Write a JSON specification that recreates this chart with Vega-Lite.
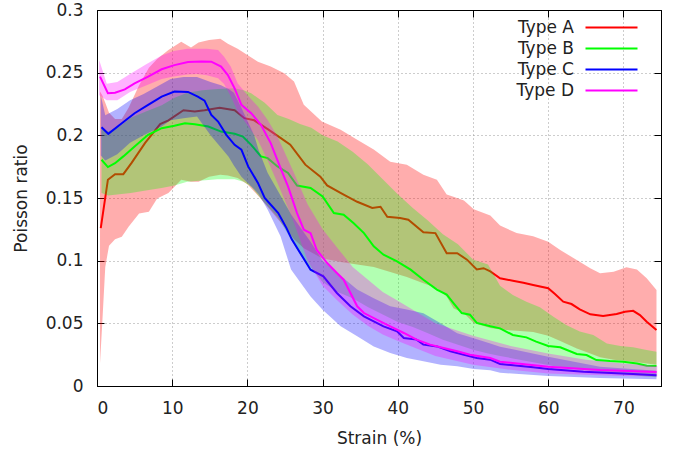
{
  "$schema": "https://vega.github.io/schema/vega-lite/v6.json",
  "width": 564,
  "height": 376,
  "autosize": "none",
  "padding": {"left": 97, "top": 10, "right": 17, "bottom": 69},
  "config": {
    "font": "DejaVu Sans",
    "view": {"stroke": "#000", "strokeWidth": 1},
    "axis": {"labelFontSize": 17, "titleFontSize": 17, "titleFontWeight": "normal", "labelColor": "#222", "titleColor": "#222", "domainColor": "#000", "tickColor": "#000", "tickSize": -7, "gridColor": "#9a9a9a", "gridDash": [1, 3], "gridWidth": 1}
  },
  "datasets": {
    "lines": [
      {"t":"Type A","x":0.5,"y":0.126},{"t":"Type A","x":1.45,"y":0.1646},{"t":"Type A","x":2.4,"y":0.169},{"t":"Type A","x":3.5,"y":0.169},{"t":"Type A","x":4.6,"y":0.178},{"t":"Type A","x":6.4,"y":0.194},{"t":"Type A","x":8.4,"y":0.209},{"t":"Type A","x":9.5,"y":0.212},{"t":"Type A","x":11.5,"y":0.22},{"t":"Type A","x":13,"y":0.219},{"t":"Type A","x":14.3,"y":0.22},{"t":"Type A","x":16.3,"y":0.222},{"t":"Type A","x":18.3,"y":0.22},{"t":"Type A","x":19.6,"y":0.2137},{"t":"Type A","x":20.9,"y":0.212},{"t":"Type A","x":22.7,"y":0.205},{"t":"Type A","x":24.4,"y":0.198},{"t":"Type A","x":25.7,"y":0.1926},{"t":"Type A","x":27.7,"y":0.1766},{"t":"Type A","x":29.7,"y":0.167},{"t":"Type A","x":30.6,"y":0.16},{"t":"Type A","x":32.8,"y":0.1527},{"t":"Type A","x":34.6,"y":0.147},{"t":"Type A","x":36.6,"y":0.142},{"t":"Type A","x":37.7,"y":0.143},{"t":"Type A","x":38.6,"y":0.135},{"t":"Type A","x":40.3,"y":0.134},{"t":"Type A","x":41.4,"y":0.1327},{"t":"Type A","x":43.4,"y":0.1226},{"t":"Type A","x":45,"y":0.122},{"t":"Type A","x":46.5,"y":0.106},{"t":"Type A","x":47.9,"y":0.106},{"t":"Type A","x":49.2,"y":0.1008},{"t":"Type A","x":50.5,"y":0.093},{"t":"Type A","x":51.4,"y":0.094},{"t":"Type A","x":52.3,"y":0.0915},{"t":"Type A","x":53.6,"y":0.0859},{"t":"Type A","x":55.3,"y":0.084},{"t":"Type A","x":56.7,"y":0.0824},{"t":"Type A","x":58,"y":0.0806},{"t":"Type A","x":60,"y":0.078},{"t":"Type A","x":60.9,"y":0.0734},{"t":"Type A","x":62,"y":0.0673},{"t":"Type A","x":63.1,"y":0.0654},{"t":"Type A","x":64.2,"y":0.0612},{"t":"Type A","x":65.6,"y":0.0572},{"t":"Type A","x":67.3,"y":0.0558},{"t":"Type A","x":69.1,"y":0.0574},{"t":"Type A","x":70.2,"y":0.0593},{"t":"Type A","x":71.3,"y":0.06},{"t":"Type A","x":72.2,"y":0.0566},{"t":"Type A","x":73.1,"y":0.0513},{"t":"Type A","x":74.4,"y":0.0447},
      {"t":"Type B","x":0.6,"y":0.1805},{"t":"Type B","x":1.45,"y":0.1747},{"t":"Type B","x":2.4,"y":0.1778},{"t":"Type B","x":3.5,"y":0.1832},{"t":"Type B","x":5,"y":0.191},{"t":"Type B","x":6.8,"y":0.2004},{"t":"Type B","x":8.6,"y":0.2057},{"t":"Type B","x":10.3,"y":0.2076},{"t":"Type B","x":11.7,"y":0.2097},{"t":"Type B","x":13,"y":0.2089},{"t":"Type B","x":14.8,"y":0.207},{"t":"Type B","x":16.5,"y":0.203},{"t":"Type B","x":18.3,"y":0.2012},{"t":"Type B","x":19.4,"y":0.199},{"t":"Type B","x":20.5,"y":0.1924},{"t":"Type B","x":21.8,"y":0.1832},{"t":"Type B","x":22.7,"y":0.1818},{"t":"Type B","x":24,"y":0.1752},{"t":"Type B","x":25.4,"y":0.17},{"t":"Type B","x":26.6,"y":0.16},{"t":"Type B","x":28.4,"y":0.158},{"t":"Type B","x":30,"y":0.1513},{"t":"Type B","x":31.5,"y":0.138},{"t":"Type B","x":32.8,"y":0.1367},{"t":"Type B","x":34.1,"y":0.13},{"t":"Type B","x":35.5,"y":0.122},{"t":"Type B","x":36.8,"y":0.1114},{"t":"Type B","x":38.1,"y":0.1048},{"t":"Type B","x":39.9,"y":0.0995},{"t":"Type B","x":41.7,"y":0.0928},{"t":"Type B","x":43.4,"y":0.0848},{"t":"Type B","x":45.2,"y":0.0769},{"t":"Type B","x":46.5,"y":0.0729},{"t":"Type B","x":47.4,"y":0.0662},{"t":"Type B","x":48.5,"y":0.0582},{"t":"Type B","x":49.6,"y":0.0569},{"t":"Type B","x":50.5,"y":0.0503},{"t":"Type B","x":52.3,"y":0.0476},{"t":"Type B","x":53.6,"y":0.046},{"t":"Type B","x":55.3,"y":0.0407},{"t":"Type B","x":57.1,"y":0.0388},{"t":"Type B","x":58.4,"y":0.0354},{"t":"Type B","x":60,"y":0.0319},{"t":"Type B","x":61.6,"y":0.0309},{"t":"Type B","x":63.8,"y":0.0255},{"t":"Type B","x":65.1,"y":0.0247},{"t":"Type B","x":66.4,"y":0.0207},{"t":"Type B","x":68.2,"y":0.0199},{"t":"Type B","x":70,"y":0.0194},{"t":"Type B","x":71.8,"y":0.018},{"t":"Type B","x":73.1,"y":0.0162},{"t":"Type B","x":74.4,"y":0.016},
      {"t":"Type C","x":0.6,"y":0.2065},{"t":"Type C","x":1.5,"y":0.2012},{"t":"Type C","x":3.3,"y":0.2097},{"t":"Type C","x":5,"y":0.2176},{"t":"Type C","x":6.8,"y":0.2243},{"t":"Type C","x":8.6,"y":0.2309},{"t":"Type C","x":10.3,"y":0.2349},{"t":"Type C","x":12.1,"y":0.2346},{"t":"Type C","x":13.4,"y":0.2309},{"t":"Type C","x":14.3,"y":0.2277},{"t":"Type C","x":15.2,"y":0.2163},{"t":"Type C","x":16.1,"y":0.211},{"t":"Type C","x":17.2,"y":0.2004},{"t":"Type C","x":18.3,"y":0.1924},{"t":"Type C","x":19.2,"y":0.1885},{"t":"Type C","x":20.1,"y":0.1752},{"t":"Type C","x":21.4,"y":0.162},{"t":"Type C","x":22.3,"y":0.15},{"t":"Type C","x":24.1,"y":0.138},{"t":"Type C","x":25.2,"y":0.126},{"t":"Type C","x":25.9,"y":0.117},{"t":"Type C","x":28.4,"y":0.0928},{"t":"Type C","x":30.1,"y":0.0875},{"t":"Type C","x":31.9,"y":0.0742},{"t":"Type C","x":33.7,"y":0.0636},{"t":"Type C","x":35.5,"y":0.0556},{"t":"Type C","x":38.1,"y":0.0476},{"t":"Type C","x":39.9,"y":0.0436},{"t":"Type C","x":40.8,"y":0.0383},{"t":"Type C","x":42.5,"y":0.037},{"t":"Type C","x":43.4,"y":0.033},{"t":"Type C","x":45.2,"y":0.0316},{"t":"Type C","x":47,"y":0.0277},{"t":"Type C","x":48.8,"y":0.025},{"t":"Type C","x":50.5,"y":0.0223},{"t":"Type C","x":52.3,"y":0.021},{"t":"Type C","x":53.6,"y":0.0176},{"t":"Type C","x":58,"y":0.0149},{"t":"Type C","x":60,"y":0.0136},{"t":"Type C","x":64.7,"y":0.0114},{"t":"Type C","x":69.1,"y":0.0101},{"t":"Type C","x":71.3,"y":0.0096},{"t":"Type C","x":74.4,"y":0.0085},
      {"t":"Type D","x":0.4,"y":0.2468},{"t":"Type D","x":1.45,"y":0.2336},{"t":"Type D","x":2.4,"y":0.234},{"t":"Type D","x":3.7,"y":0.2367},{"t":"Type D","x":5,"y":0.2415},{"t":"Type D","x":6.8,"y":0.2468},{"t":"Type D","x":8.6,"y":0.2527},{"t":"Type D","x":10.3,"y":0.256},{"t":"Type D","x":12.1,"y":0.2585},{"t":"Type D","x":13.9,"y":0.259},{"t":"Type D","x":15.2,"y":0.2588},{"t":"Type D","x":16.5,"y":0.2548},{"t":"Type D","x":17.4,"y":0.2481},{"t":"Type D","x":18.3,"y":0.2375},{"t":"Type D","x":19.2,"y":0.2243},{"t":"Type D","x":20.5,"y":0.2177},{"t":"Type D","x":21.8,"y":0.2084},{"t":"Type D","x":23.1,"y":0.1938},{"t":"Type D","x":24.5,"y":0.1725},{"t":"Type D","x":25.4,"y":0.1593},{"t":"Type D","x":26.6,"y":0.138},{"t":"Type D","x":27.5,"y":0.1247},{"t":"Type D","x":28.4,"y":0.122},{"t":"Type D","x":29.2,"y":0.1088},{"t":"Type D","x":30.6,"y":0.0981},{"t":"Type D","x":31.9,"y":0.0902},{"t":"Type D","x":32.8,"y":0.0848},{"t":"Type D","x":34.6,"y":0.0636},{"t":"Type D","x":35.5,"y":0.0582},{"t":"Type D","x":37.2,"y":0.0529},{"t":"Type D","x":39,"y":0.0476},{"t":"Type D","x":40.8,"y":0.0423},{"t":"Type D","x":42.5,"y":0.037},{"t":"Type D","x":44.3,"y":0.033},{"t":"Type D","x":46.1,"y":0.0303},{"t":"Type D","x":47.9,"y":0.0277},{"t":"Type D","x":49.6,"y":0.025},{"t":"Type D","x":52.3,"y":0.0223},{"t":"Type D","x":53.6,"y":0.0194},{"t":"Type D","x":60,"y":0.0154},{"t":"Type D","x":66.9,"y":0.0128},{"t":"Type D","x":74.4,"y":0.0112}
    ],
    "bands": [
      {"t":"Type A","x":0.4,"lo":0.018,"hi":0.235},{"t":"Type A","x":0.7,"lo":0.05,"hi":0.232},{"t":"Type A","x":1.1,"lo":0.095,"hi":0.226},{"t":"Type A","x":1.6,"lo":0.112,"hi":0.218},{"t":"Type A","x":2.4,"lo":0.117,"hi":0.213},{"t":"Type A","x":3.3,"lo":0.119,"hi":0.213},{"t":"Type A","x":4.2,"lo":0.127,"hi":0.222},{"t":"Type A","x":5.6,"lo":0.1376,"hi":0.24},{"t":"Type A","x":6.9,"lo":0.139,"hi":0.254},{"t":"Type A","x":8,"lo":0.1496,"hi":0.261},{"t":"Type A","x":9.5,"lo":0.154,"hi":0.268},{"t":"Type A","x":11.2,"lo":0.1646,"hi":0.2747},{"t":"Type A","x":12.5,"lo":0.163,"hi":0.27},{"t":"Type A","x":13.5,"lo":0.163,"hi":0.274},{"t":"Type A","x":14.9,"lo":0.167,"hi":0.276},{"t":"Type A","x":16.4,"lo":0.1686,"hi":0.277},{"t":"Type A","x":17.4,"lo":0.168,"hi":0.273},{"t":"Type A","x":18.7,"lo":0.166,"hi":0.269},{"t":"Type A","x":20,"lo":0.161,"hi":0.264},{"t":"Type A","x":21.4,"lo":0.152,"hi":0.2588},{"t":"Type A","x":23.1,"lo":0.14,"hi":0.255},{"t":"Type A","x":24.9,"lo":0.127,"hi":0.2495},{"t":"Type A","x":26.2,"lo":0.117,"hi":0.243},{"t":"Type A","x":27.5,"lo":0.11,"hi":0.2245},{"t":"Type A","x":29.9,"lo":0.102,"hi":0.211},{"t":"Type A","x":32.4,"lo":0.099,"hi":0.2045},{"t":"Type A","x":34.6,"lo":0.097,"hi":0.1965},{"t":"Type A","x":36.8,"lo":0.095,"hi":0.1886},{"t":"Type A","x":39,"lo":0.091,"hi":0.179},{"t":"Type A","x":41.2,"lo":0.087,"hi":0.1766},{"t":"Type A","x":43.4,"lo":0.082,"hi":0.1686},{"t":"Type A","x":45.2,"lo":0.078,"hi":0.1646},{"t":"Type A","x":46.5,"lo":0.0715,"hi":0.1527},{"t":"Type A","x":47.4,"lo":0.062,"hi":0.151},{"t":"Type A","x":48.8,"lo":0.058,"hi":0.148},{"t":"Type A","x":50.1,"lo":0.0503,"hi":0.141},{"t":"Type A","x":52.3,"lo":0.0463,"hi":0.136},{"t":"Type A","x":53.6,"lo":0.045,"hi":0.128},{"t":"Type A","x":55.8,"lo":0.044,"hi":0.122},{"t":"Type A","x":58,"lo":0.043,"hi":0.1195},{"t":"Type A","x":60,"lo":0.04,"hi":0.115},{"t":"Type A","x":61.6,"lo":0.036,"hi":0.1085},{"t":"Type A","x":63.8,"lo":0.03,"hi":0.1005},{"t":"Type A","x":65.6,"lo":0.026,"hi":0.0939},{"t":"Type A","x":66.9,"lo":0.023,"hi":0.0899},{"t":"Type A","x":68.7,"lo":0.021,"hi":0.0912},{"t":"Type A","x":70.4,"lo":0.02,"hi":0.0947},{"t":"Type A","x":71.8,"lo":0.019,"hi":0.093},{"t":"Type A","x":73.1,"lo":0.018,"hi":0.0859},{"t":"Type A","x":74.4,"lo":0.017,"hi":0.0766},
      {"t":"Type B","x":0.6,"lo":0.154,"hi":0.205},{"t":"Type B","x":1.5,"lo":0.152,"hi":0.203},{"t":"Type B","x":3,"lo":0.153,"hi":0.207},{"t":"Type B","x":4.5,"lo":0.154,"hi":0.214},{"t":"Type B","x":6.5,"lo":0.156,"hi":0.219},{"t":"Type B","x":8.6,"lo":0.158,"hi":0.224},{"t":"Type B","x":10.3,"lo":0.16,"hi":0.23},{"t":"Type B","x":12,"lo":0.163,"hi":0.234},{"t":"Type B","x":14,"lo":0.164,"hi":0.236},{"t":"Type B","x":16,"lo":0.165,"hi":0.237},{"t":"Type B","x":18.3,"lo":0.165,"hi":0.2375},{"t":"Type B","x":19.5,"lo":0.163,"hi":0.236},{"t":"Type B","x":20.5,"lo":0.159,"hi":0.2336},{"t":"Type B","x":22.3,"lo":0.146,"hi":0.226},{"t":"Type B","x":24,"lo":0.135,"hi":0.2163},{"t":"Type B","x":25.5,"lo":0.12,"hi":0.213},{"t":"Type B","x":27,"lo":0.105,"hi":0.209},{"t":"Type B","x":28.5,"lo":0.094,"hi":0.206},{"t":"Type B","x":30,"lo":0.083,"hi":0.2},{"t":"Type B","x":32,"lo":0.075,"hi":0.195},{"t":"Type B","x":34,"lo":0.07,"hi":0.187},{"t":"Type B","x":36,"lo":0.063,"hi":0.177},{"t":"Type B","x":38,"lo":0.057,"hi":0.165},{"t":"Type B","x":40,"lo":0.051,"hi":0.153},{"t":"Type B","x":42,"lo":0.047,"hi":0.142},{"t":"Type B","x":44,"lo":0.042,"hi":0.132},{"t":"Type B","x":46,"lo":0.037,"hi":0.121},{"t":"Type B","x":48,"lo":0.033,"hi":0.113},{"t":"Type B","x":50,"lo":0.029,"hi":0.101},{"t":"Type B","x":52,"lo":0.026,"hi":0.097},{"t":"Type B","x":53.6,"lo":0.024,"hi":0.08},{"t":"Type B","x":55.3,"lo":0.022,"hi":0.0726},{"t":"Type B","x":57.1,"lo":0.02,"hi":0.0673},{"t":"Type B","x":58.9,"lo":0.018,"hi":0.0628},{"t":"Type B","x":60.7,"lo":0.016,"hi":0.0553},{"t":"Type B","x":62.4,"lo":0.0145,"hi":0.0487},{"t":"Type B","x":64.2,"lo":0.013,"hi":0.0434},{"t":"Type B","x":66,"lo":0.012,"hi":0.0407},{"t":"Type B","x":67.8,"lo":0.011,"hi":0.034},{"t":"Type B","x":69.6,"lo":0.0095,"hi":0.0319},{"t":"Type B","x":71.3,"lo":0.0085,"hi":0.0309},{"t":"Type B","x":73.1,"lo":0.0075,"hi":0.0287},{"t":"Type B","x":74.4,"lo":0.007,"hi":0.0274},
      {"t":"Type C","x":0.5,"lo":0.184,"hi":0.232},{"t":"Type C","x":1.1,"lo":0.18,"hi":0.216},{"t":"Type C","x":2.7,"lo":0.185,"hi":0.221},{"t":"Type C","x":4.4,"lo":0.194,"hi":0.228},{"t":"Type C","x":6.2,"lo":0.2,"hi":0.233},{"t":"Type C","x":8.6,"lo":0.207,"hi":0.241},{"t":"Type C","x":9.8,"lo":0.212,"hi":0.245},{"t":"Type C","x":11.5,"lo":0.2137,"hi":0.2465},{"t":"Type C","x":13.3,"lo":0.215,"hi":0.2465},{"t":"Type C","x":15.1,"lo":0.2,"hi":0.2425},{"t":"Type C","x":16.5,"lo":0.19,"hi":0.24},{"t":"Type C","x":17.5,"lo":0.183,"hi":0.237},{"t":"Type C","x":18.2,"lo":0.176,"hi":0.234},{"t":"Type C","x":19.2,"lo":0.167,"hi":0.222},{"t":"Type C","x":20.9,"lo":0.157,"hi":0.2},{"t":"Type C","x":21.5,"lo":0.153,"hi":0.188},{"t":"Type C","x":22.7,"lo":0.1407,"hi":0.17},{"t":"Type C","x":24.4,"lo":0.1195,"hi":0.152},{"t":"Type C","x":25.8,"lo":0.093,"hi":0.137},{"t":"Type C","x":28.4,"lo":0.0715,"hi":0.115},{"t":"Type C","x":30,"lo":0.0609,"hi":0.1},{"t":"Type C","x":32.4,"lo":0.0476,"hi":0.088},{"t":"Type C","x":34.6,"lo":0.0396,"hi":0.077},{"t":"Type C","x":36.8,"lo":0.0316,"hi":0.07},{"t":"Type C","x":39,"lo":0.0263,"hi":0.0636},{"t":"Type C","x":41.2,"lo":0.0223,"hi":0.061},{"t":"Type C","x":43.4,"lo":0.0197,"hi":0.058},{"t":"Type C","x":45.7,"lo":0.017,"hi":0.05},{"t":"Type C","x":47.9,"lo":0.0157,"hi":0.042},{"t":"Type C","x":50.1,"lo":0.0136,"hi":0.038},{"t":"Type C","x":52.3,"lo":0.0125,"hi":0.034},{"t":"Type C","x":53.6,"lo":0.0106,"hi":0.0314},{"t":"Type C","x":60,"lo":0.008,"hi":0.0234},{"t":"Type C","x":66.9,"lo":0.0064,"hi":0.0154},{"t":"Type C","x":74.4,"lo":0.0053,"hi":0.0122},
      {"t":"Type D","x":0.3,"lo":0.232,"hi":0.26},{"t":"Type D","x":1.3,"lo":0.228,"hi":0.2412},{"t":"Type D","x":2.7,"lo":0.228,"hi":0.2425},{"t":"Type D","x":4.4,"lo":0.2345,"hi":0.249},{"t":"Type D","x":6.6,"lo":0.24,"hi":0.257},{"t":"Type D","x":8.6,"lo":0.245,"hi":0.2637},{"t":"Type D","x":10.2,"lo":0.247,"hi":0.2672},{"t":"Type D","x":12,"lo":0.2485,"hi":0.269},{"t":"Type D","x":13.3,"lo":0.249,"hi":0.269},{"t":"Type D","x":14.6,"lo":0.248,"hi":0.269},{"t":"Type D","x":16.1,"lo":0.2455,"hi":0.268},{"t":"Type D","x":16.9,"lo":0.241,"hi":0.2627},{"t":"Type D","x":17.8,"lo":0.231,"hi":0.2548},{"t":"Type D","x":18.7,"lo":0.219,"hi":0.2415},{"t":"Type D","x":20,"lo":0.208,"hi":0.2322},{"t":"Type D","x":21.4,"lo":0.196,"hi":0.223},{"t":"Type D","x":22.7,"lo":0.18,"hi":0.2123},{"t":"Type D","x":24,"lo":0.162,"hi":0.199},{"t":"Type D","x":25.4,"lo":0.142,"hi":0.1805},{"t":"Type D","x":26.2,"lo":0.13,"hi":0.17},{"t":"Type D","x":28,"lo":0.1,"hi":0.145},{"t":"Type D","x":30,"lo":0.08,"hi":0.125},{"t":"Type D","x":32,"lo":0.068,"hi":0.11},{"t":"Type D","x":34,"lo":0.057,"hi":0.095},{"t":"Type D","x":36,"lo":0.048,"hi":0.085},{"t":"Type D","x":38,"lo":0.041,"hi":0.075},{"t":"Type D","x":40,"lo":0.036,"hi":0.068},{"t":"Type D","x":45,"lo":0.024,"hi":0.05},{"t":"Type D","x":50,"lo":0.017,"hi":0.04},{"t":"Type D","x":55,"lo":0.013,"hi":0.032},{"t":"Type D","x":60,"lo":0.01,"hi":0.026},{"t":"Type D","x":65,"lo":0.009,"hi":0.021},{"t":"Type D","x":70,"lo":0.008,"hi":0.018},{"t":"Type D","x":74.5,"lo":0.0075,"hi":0.016}
    ]
  },
  "layer": [
    {
      "encoding": {
        "x": {"field": "x", "type": "quantitative", "scale": {"domain": [0, 75], "nice": false, "zero": false},
              "axis": {"orient": "bottom", "values": [0,10,20,30,40,50,60,70], "title": "Strain (%)", "labelPadding": 21, "titlePadding": 14, "grid": true}},
        "y": {"type": "quantitative", "scale": {"domain": [0, 0.3], "nice": false},
              "axis": {"orient": "left", "values": [0,0.05,0.1,0.15,0.2,0.25,0.3], "format": "~g", "title": "Poisson ratio", "labelPadding": 21, "titlePadding": 15, "grid": true}}
      },
      "layer": [
        {"data": {"name": "bands"}, "transform": [{"filter": "datum.t === 'Type A'"}], "mark": {"type": "area", "color": "#ff0000", "opacity": 0.32}, "encoding": {"y": {"field": "lo"}, "y2": {"field": "hi"}}},
        {"data": {"name": "lines"}, "transform": [{"filter": "datum.t === 'Type A'"}], "mark": {"type": "line", "strokeWidth": 2}, "encoding": {"y": {"field": "y"}, "color": {"field": "t", "type": "nominal"}}},
        {"data": {"name": "bands"}, "transform": [{"filter": "datum.t === 'Type B'"}], "mark": {"type": "area", "color": "#00ff00", "opacity": 0.3}, "encoding": {"y": {"field": "lo"}, "y2": {"field": "hi"}}},
        {"data": {"name": "lines"}, "transform": [{"filter": "datum.t === 'Type B'"}], "mark": {"type": "line", "strokeWidth": 2}, "encoding": {"y": {"field": "y"}, "color": {"field": "t", "type": "nominal"}}},
        {"data": {"name": "bands"}, "transform": [{"filter": "datum.t === 'Type C'"}], "mark": {"type": "area", "color": "#0000ff", "opacity": 0.3}, "encoding": {"y": {"field": "lo"}, "y2": {"field": "hi"}}},
        {"data": {"name": "lines"}, "transform": [{"filter": "datum.t === 'Type C'"}], "mark": {"type": "line", "strokeWidth": 2}, "encoding": {"y": {"field": "y"}, "color": {"field": "t", "type": "nominal"}}},
        {"data": {"name": "bands"}, "transform": [{"filter": "datum.t === 'Type D'"}], "mark": {"type": "area", "color": "#ff00ff", "opacity": 0.3}, "encoding": {"y": {"field": "lo"}, "y2": {"field": "hi"}}},
        {"data": {"name": "lines"}, "transform": [{"filter": "datum.t === 'Type D'"}], "mark": {"type": "line", "strokeWidth": 2},
         "encoding": {"y": {"field": "y"}, "color": {"field": "t", "type": "nominal",
           "scale": {"domain": ["Type A","Type B","Type C","Type D"], "range": ["#ff0000","#00ff00","#0000ff","#ff00ff"]},
           "legend": {"title": null, "orient": "none", "legendX": 400, "legendY": 9, "symbolType": "M-5.2,0H5.2", "symbolSize": 100, "symbolStrokeWidth": 2, "symbolOffset": 106, "labelOffset": -46, "labelAlign": "right", "labelFontSize": 17, "labelColor": "#222", "rowPadding": 3, "padding": 0}}}}
      ]
    },
    {
      "data": {"name": "lines"},
      "mark": {"type": "point", "opacity": 0},
      "encoding": {
        "x": {"field": "x", "type": "quantitative", "axis": {"orient": "top", "values": [0,10,20,30,40,50,60,70], "labels": false, "title": null, "grid": false}},
        "y": {"field": "y", "type": "quantitative", "axis": {"orient": "right", "values": [0,0.05,0.1,0.15,0.2,0.25,0.3], "labels": false, "title": null, "grid": false}}
      }
    }
  ],
  "resolve": {"axis": {"x": "independent", "y": "independent"}}
}
